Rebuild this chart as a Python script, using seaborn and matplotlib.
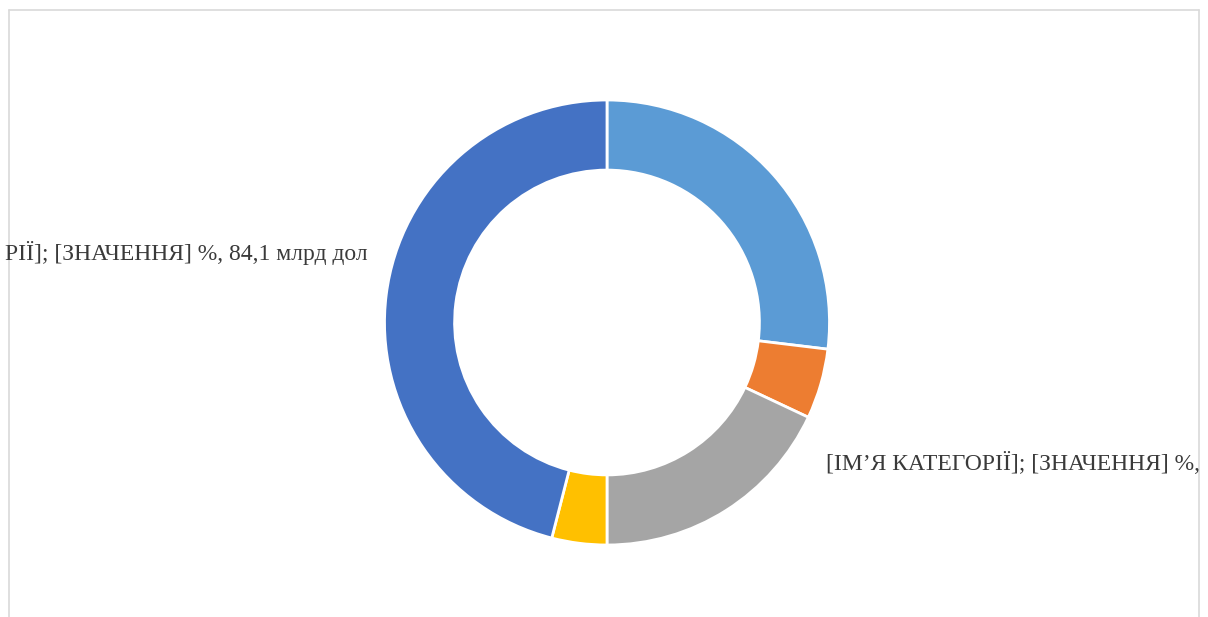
import matplotlib
matplotlib.use("Agg")
import matplotlib.pyplot as plt
from matplotlib.lines import Line2D
import seaborn as sns

# Structure of the total (bn USD), clockwise from 12 o'clock
categories = ["Категорія 1", "Категорія 2", "Категорія 3", "Категорія 4", "Категорія 5"]
values_bn = [49.2, 9.3, 32.9, 7.3, 84.1]
colors = ["#5B9BD5", "#ED7D31", "#A5A5A5", "#FFC000", "#4472C4"]

# data labels as they appear inside the chart area
label_left = "РІЇ]; [ЗНАЧЕННЯ] %, 84,1 млрд дол"
label_right = "[ІМ’Я КАТЕГОРІЇ]; [ЗНАЧЕННЯ] %,"

sns.set_theme(style="white")
plt.rcParams["font.family"] = ["Liberation Serif", "DejaVu Serif"]

W, H = 1208, 617
fig = plt.figure(figsize=(W / 100, H / 100), dpi=100)
fig.patch.set_facecolor("white")

def fx(px):
    return px / W

def fy(py):
    return 1 - py / H

# chart frame (top, left, right)
frame_col = "#D9D9D9"
fig.add_artist(Line2D([fx(9), fx(1199)], [fy(10), fy(10)], color=frame_col, lw=1.2))
fig.add_artist(Line2D([fx(9), fx(9)], [fy(10), fy(H + 5)], color=frame_col, lw=1.2))
fig.add_artist(Line2D([fx(1199), fx(1199)], [fy(10), fy(H + 5)], color=frame_col, lw=1.2))

# donut
cx, cy, r = 607, 322.5, 222.5
ax = fig.add_axes([fx(cx - r), fy(cy + r), 2 * r / W, 2 * r / H])
palette = sns.color_palette(colors)
ax.pie(values_bn, colors=palette, startangle=90, counterclock=False, radius=1,
       wedgeprops=dict(width=0.315, edgecolor="white", linewidth=2))
ax.set_xlim(-1, 1)
ax.set_ylim(-1, 1)
ax.set_aspect("equal")
ax.axis("off")

fig.text(fx(368), fy(253), label_left, ha="right", va="center",
         fontsize=17, color="#3A3A3A")
fig.text(fx(826), fy(463), label_right, ha="left", va="center",
         fontsize=17, color="#3A3A3A")

fig.savefig("out.png", dpi=100, facecolor="white")
